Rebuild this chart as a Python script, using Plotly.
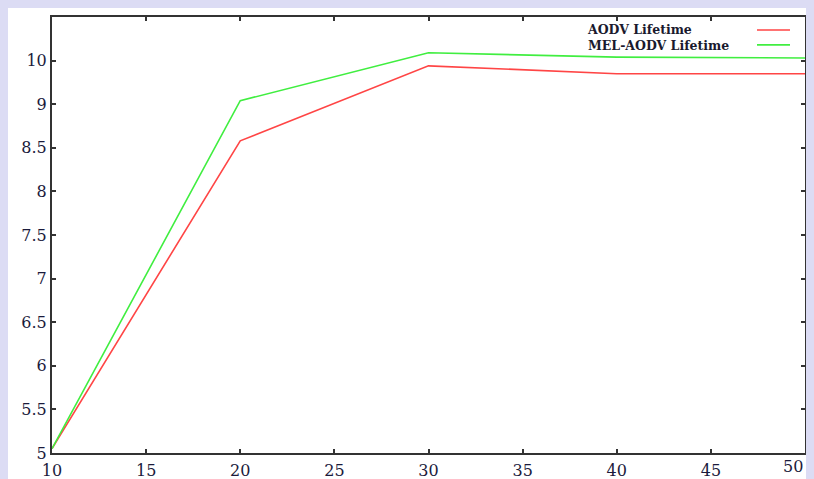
import plotly.graph_objects as go

# ---- data ----
x_nodes = [10, 20, 30, 40, 50]
aodv_lifetime = [5.05, 8.58, 9.44, 9.35, 9.35]
mel_aodv_lifetime = [5.05, 9.04, 9.59, 9.54, 9.53]

x_tickvals = [10, 15, 20, 25, 30, 35, 40, 45, 50]
x_ticklabels = ["10", "15", "20", "25", "30", "35", "40", "45", "50"]
y_tickvals = [5, 5.5, 6, 6.5, 7, 7.5, 8, 8.5, 9, 9.5]
y_ticktext = ["5", "5.5", "6", "6.5", "7", "7.5", "8", "8.5", "9", "10"]

series_names = ["AODV Lifetime", "MEL-AODV Lifetime"]
series_colors = ["#ff4545", "#40ee40"]

fig = go.Figure()
for name, ys, col in zip(series_names, [aodv_lifetime, mel_aodv_lifetime], series_colors):
    fig.add_trace(go.Scatter(x=x_nodes, y=ys, mode="lines", name=name,
                             line=dict(color=col, width=1.6), showlegend=False))

# the page keeps the default 8px body margin; figure px = screen px - 8
W, H = 814, 479
OFF = 8

def fx(p):
    return p - OFF

def fy(p):
    return p - OFF

L, T = fx(52), fy(15)
R, B = W - fx(805), H - fy(453)
pw, ph = W - L - R, H - T - B

def px_x(p):
    return (fx(p) - L) / pw

def px_y(p):
    return (H - B - fy(p)) / ph

tick_font = dict(family="DejaVu Serif", size=16, color="#1b1b3c")

shapes = []
annotations = [
    dict(xref="paper", yref="paper", x=px_x(585), y=px_y(36),
         text="<br>".join("<b>" + n + "</b>" for n in series_names), showarrow=False,
         xanchor="left", yanchor="middle", align="left",
         font=dict(family="DejaVu Serif", size=12.5, color="#1a1a2e")),
    # last x tick label, kept right-aligned so it stays inside the page
    dict(xref="x", yref="paper", x=x_tickvals[-1], y=0, text=x_ticklabels[-1],
         showarrow=False, xanchor="right", yanchor="top", yshift=-2,
         font=tick_font),
]
leg_y = [28, 43]
for col, yy in zip(series_colors, leg_y):
    shapes.append(dict(type="line", xref="paper", yref="paper", x0=px_x(757), x1=px_x(790),
                       y0=px_y(yy), y1=px_y(yy), line=dict(color=col, width=1.6)))

axis_common = dict(showgrid=False, zeroline=False, showline=True, linecolor="#333333",
                   linewidth=2, mirror="ticks", ticks="inside", ticklen=4,
                   tickcolor="#333333", tickwidth=1.5, tickfont=tick_font)

fig.update_layout(
    width=W, height=H,
    margin=dict(l=L, r=R, t=T, b=B),
    paper_bgcolor="white",
    plot_bgcolor="white",
    xaxis=dict(range=[10, 50], tickvals=x_tickvals,
               ticktext=x_ticklabels[:-1] + [""],
               ticklabelstandoff=2, **axis_common),
    yaxis=dict(range=[5, 10], tickvals=y_tickvals, ticktext=y_ticktext, **axis_common),
    shapes=shapes,
    annotations=annotations,
)

fig.write_html("out.html", config={"displayModeBar": False},
               post_script="document.body.style.background='#dcdcf4';")
